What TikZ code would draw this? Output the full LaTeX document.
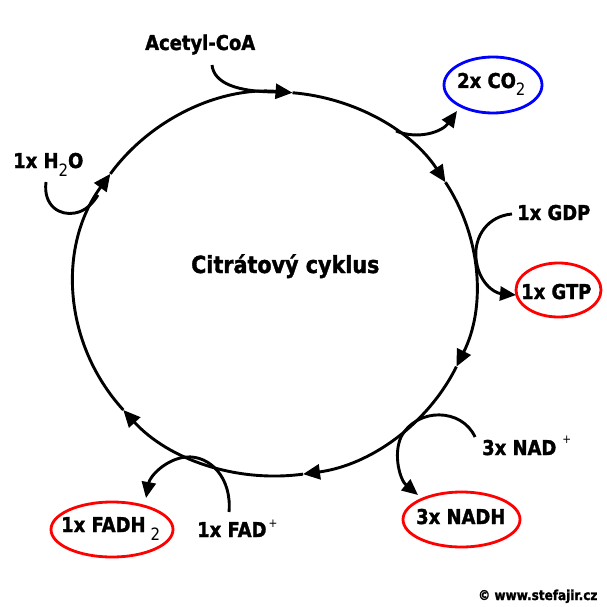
\documentclass[tikz,border=0pt]{standalone}
\usepackage{fontspec}
\setmainfont{DejaVu Sans}[FakeStretch=0.88, BoldFeatures={FakeBold=1.5}]
\usetikzlibrary{arrows.meta,shapes.geometric}
\newcommand\mysub[1]{\raisebox{-8pt}{\fontsize{17}{17}\selectfont\mdseries #1}}
\newcommand\mysup[2]{\raisebox{#1}{\fontsize{12}{12}\selectfont\mdseries #2}}
\begin{document}
\begin{tikzpicture}[x=1pt,y=-1pt,
  lbl/.style={inner sep=0pt, anchor=base west, font=\fontsize{20.4}{24}\selectfont\bfseries},
  cyc/.style={line width=2.9pt, -{Triangle[length=17pt,width=15pt]}},
  side/.style={line width=2.9pt, -{Triangle[length=16pt,width=14pt]}},
  sideplain/.style={line width=2.9pt},
  prod/.style={ellipse, draw, line width=2.8pt, inner sep=0pt},
]
\useasboundingbox (0,0) rectangle (607,607);
\fill[white] (0,0) rectangle (607,607);

% cycle
\coordinate (O) at (275,284);
\begin{scope}[shift={(O)}]
\draw[cyc] (275:201 and 192) arc[start angle=275,end angle=328,x radius=201,y radius=192];
\draw[cyc] (328:201 and 192) arc[start angle=328,end angle=385.5,x radius=201,y radius=192];
\draw[cyc] (25.5:201 and 192) arc[start angle=25.5,end angle=82,x radius=201,y radius=192];
\draw[cyc] (82:201 and 192) arc[start angle=82,end angle=139,x radius=201,y radius=192];
\draw[cyc] (139:201 and 192) arc[start angle=139,end angle=215,x radius=201,y radius=192];
\draw[cyc] (215:201 and 192) arc[start angle=215,end angle=275,x radius=201,y radius=192];
\end{scope}

% product ellipses
\node[prod, draw=blue, minimum width=98pt, minimum height=56pt] (co2) at (493,85) {};
\node[prod, draw=red, minimum width=85pt, minimum height=54pt] (gtp) at (558.5,290) {};
\node[prod, draw=red, minimum width=117pt, minimum height=55pt] (nadh) at (461.5,519.5) {};
\node[prod, draw=red, minimum width=122pt, minimum height=55pt] (fadh) at (112,529.5) {};

% labels
\node[lbl] (acetyl) at (145,50) {Acetyl-CoA};
\node[lbl] (h2o) at (13,168) {1x H\mysub{2}O};
\node[lbl] (co2t) at (457,88) {2x CO\mysub{2}};
\node[lbl] (gdp) at (517,220) {1x GDP};
\node[lbl] (gtpt) at (521,299) {1x GTP};
\node[lbl] (nad) at (482,455) {3x NAD\hspace{6pt}\mysup{12pt}{+}};
\node[lbl] (nadht) at (416,524) {3x NADH};
\node[lbl] (fadht) at (61,532) {1x FADH\hspace{5pt}\mysub{2}};
\node[lbl] (fad) at (197,537) {1x FAD\hspace{2pt}\mysup{10pt}{+}};
\node[lbl, font=\fontsize{23.5}{28}\selectfont\bfseries] (title) at (191,273) {Citrátový cyklus};
\node[lbl, font=\fontsize{13.7}{16}\selectfont\bfseries] (copy) at (478,600) {© www.stefajir.cz};

% side branches
\coordinate (acS) at (212,65);
\coordinate (acE) at (278,92);
\draw[sideplain] (acS) .. controls (214,83) and (236,92) .. (acE);

\coordinate (coS) at (396,131);
\coordinate (coT) at (457,111);
\draw[side] (coS) .. controls (418,140) and (442,132) .. (coT);

\coordinate (gdS) at (512,214);
\coordinate (gdM) at (476,258);
\coordinate (gdT) at (516,295);
\draw[side] (gdS) .. controls (488,216) and (474,236) .. (gdM) .. controls (478,282) and (494,293) .. (gdT);

\coordinate (naS) at (475,437);
\coordinate (naM) at (401,437);
\coordinate (naT) at (418,495);
\draw[side] (naS) .. controls (462,408) and (417,407) .. (naM) .. controls (393,455) and (400,480) .. (naT);

\coordinate (faS) at (229,512);
\coordinate (faM) at (186,457);
\coordinate (faT) at (146,498);
\draw[side] (faS) .. controls (232,478) and (210,455) .. (faM) .. controls (166,459) and (150,476) .. (faT);

\coordinate (hoS) at (46,182);
\coordinate (hoM) at (75,213);
\coordinate (hoE) at (98,195);
\draw[sideplain] (hoS) .. controls (43,206) and (60,216) .. (hoM) .. controls (86,211) and (93,203) .. (hoE);
\end{tikzpicture}
\end{document}
